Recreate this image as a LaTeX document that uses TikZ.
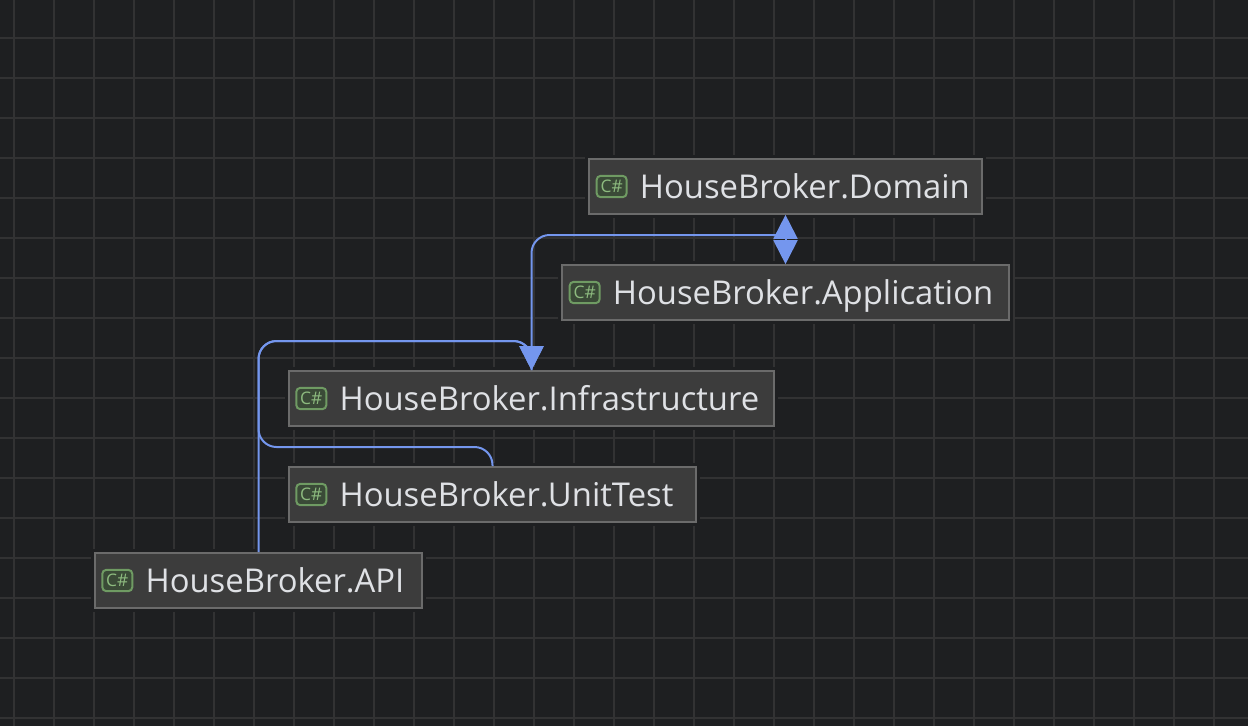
\documentclass[tikz,border=0pt]{standalone}
\usepackage{fontspec}
\setmainfont{Open Sans}
\usetikzlibrary{calc, positioning, arrows.meta}
\definecolor{canvas}{HTML}{1E1F21}
\definecolor{gridline}{HTML}{323233}
\definecolor{boxfill}{HTML}{3C3C3C}
\definecolor{boxline}{HTML}{6B6B6B}
\definecolor{linkblue}{HTML}{7496EE}
\definecolor{sharpline}{HTML}{6F9B63}
\definecolor{sharpfill}{HTML}{3A4A37}
\definecolor{sharptext}{HTML}{8DBB7F}
\definecolor{labeltext}{HTML}{DFE1E5}

\begin{document}
\begin{tikzpicture}[
  x=0.75pt, y=-0.75pt,
  node distance=5.6pt,
  module/.style={draw=boxline, fill=boxfill, line width=1.5pt, minimum height=41pt,
                 inner sep=0pt, preaction={draw=canvas, line width=6pt}},
  csicon/.style={draw=sharpline, fill=sharpfill, line width=1.5pt, rounded corners=3pt,
                 minimum width=22.5pt, minimum height=16pt, inner sep=0pt,
                 text=sharptext, font=\fontsize{13}{13}\selectfont},
  caption/.style={inner sep=0pt, text=labeltext, text height=18.8pt, text depth=0.5pt,
                  font=\fontsize{24.6}{28}\selectfont},
  link/.style={draw=linkblue, line width=1.5pt, rounded corners=13.5pt},
  linktip/.style={link, -{Triangle[length=18pt,width=18pt]}},
]
\useasboundingbox (0,0) rectangle (1248,726);
\fill[canvas] (0,0) rectangle (1248,726);
\foreach \x in {14,54,...,1234} \draw[gridline, line width=1.5pt] (\x,0) -- (\x,726);
\foreach \y in {38,78,...,718} \draw[gridline, line width=1.5pt] (0,\y) -- (1248,\y);

\node[module, minimum width=294.5pt] (dom) at (785.5,186.5) {};
\node[module, minimum width=335pt] (app) at (785.5,292.5) {};
\node[module, minimum width=364pt] (inf) at (531.5,398.5) {};
\node[module, minimum width=305.5pt] (ut) at (492.5,494.5) {};
\node[module, minimum width=245.5pt] (api) at (258.5,580.5) {};

\node[csicon, right=of dom.west] (domicon) {C\#};
\node[csicon, right=of app.west] (appicon) {C\#};
\node[csicon, right=of inf.west] (inficon) {C\#};
\node[csicon, right=of ut.west] (uticon) {C\#};
\node[csicon, right=of api.west] (apiicon) {C\#};

\node[caption, right=9pt of domicon] (domtext) {HouseBroker.Domain};
\node[caption, right=9pt of appicon] (apptext) {HouseBroker.Application};
\node[caption, right=9pt of inficon] (inftext) {HouseBroker.Infrastructure};
\node[caption, right=9pt of uticon] (uttext) {HouseBroker.UnitTest};
\node[caption, right=9pt of apiicon] (apitext) {HouseBroker.API};

\coordinate (toplane) at (785.5,235);
\coordinate (midlane) at (531.5,341);
\coordinate (lowlane) at (258.5,447);

\draw[link] (inf.north) |- (toplane);
\draw[linktip] (toplane) -- (dom.south);
\draw[linktip] (toplane) -- (app.north);
\draw[linktip] (api.north) |- (midlane) -- (inf.north);
\draw[linktip] (ut.north) |- (lowlane) |- (midlane) -- (inf.north);
\end{tikzpicture}
\end{document}
